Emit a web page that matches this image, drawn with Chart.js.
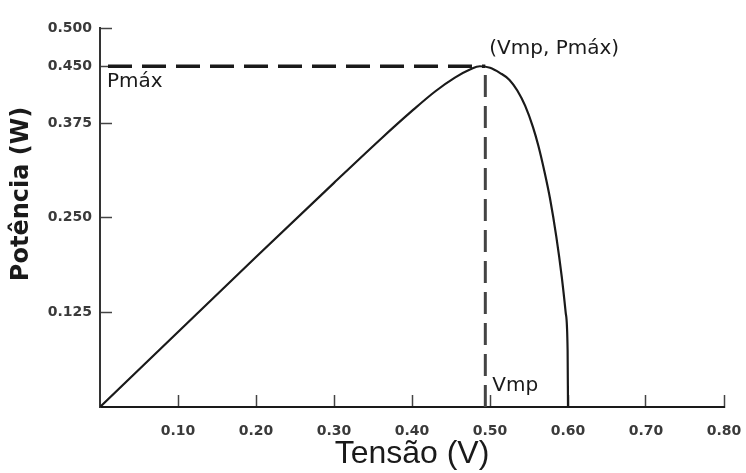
<!DOCTYPE html>
<html>
<head>
<meta charset="utf-8">
<script src="https://cdn.jsdelivr.net/npm/chart.js@4"></script>
<style>
  html, body { margin: 0; padding: 0; background: #fff; }
  #wrap { width: 746px; height: 473px; }
</style>
</head>
<body>
<div id="wrap"><canvas id="pv-chart"></canvas></div>
<script>
// curva P-V da célula
const voltage = [0, 0.10, 0.20, 0.30, 0.36, 0.40, 0.43, 0.455, 0.475, 0.487, 0.50, 0.513, 0.525, 0.535, 0.545, 0.555, 0.562, 0.57, 0.577, 0.585, 0.592, 0.597, 0.5995, 0.60]
const power   = [0, 0.099, 0.198, 0.296, 0.354, 0.391, 0.417, 0.435, 0.446, 0.450, 0.448, 0.441, 0.432, 0.418, 0.398, 0.370, 0.345, 0.310, 0.275, 0.225, 0.172, 0.125, 0.075, 0]

const xTicks = [0.10, 0.20, 0.30, 0.40, 0.50, 0.60, 0.70, 0.80]
const yTicks = [0.125, 0.250, 0.375, 0.450, 0.500]

const vmp = 0.494
const pmax = 0.45

const ink = '#1a1a1a'

const notes = {
  id: 'notes',
  afterDatasetsDraw(chart) {
    const { ctx, scales: { x, y } } = chart
    ctx.save()
    ctx.fillStyle = ink
    ctx.textBaseline = 'middle'
    ctx.font = '20px "DejaVu Sans", sans-serif'
    ctx.fillText('Pmáx', x.getPixelForValue(0) + 7, y.getPixelForValue(pmax) + 16)
    ctx.fillText('(Vmp, Pmáx)', x.getPixelForValue(vmp) + 4, y.getPixelForValue(pmax) - 17)
    ctx.fillText('Vmp', x.getPixelForValue(vmp) + 7, y.getPixelForValue(0) - 21)

    // título do eixo y
    ctx.translate(22, 194)
    ctx.rotate(-Math.PI / 2)
    ctx.textAlign = 'center'
    ctx.font = 'bold 24px "DejaVu Sans", sans-serif'
    ctx.fillText('Potência (W)', 0, 0)
    ctx.restore()
  }
}

const config = {
  type: 'line',
  data: {
    datasets: [
      {
        data: voltage.map((v, i) => ({ x: v, y: power[i] })),
        borderColor: ink,
        borderWidth: 2.2,
        pointRadius: 0,
        cubicInterpolationMode: 'monotone',
        fill: false
      },
      {
        data: [{ x: 0, y: pmax }, { x: vmp, y: pmax }],
        borderColor: ink,
        borderWidth: 3.5,
        borderDash: [24, 10],
        borderDashOffset: -8,
        pointRadius: 0
      },
      {
        data: [{ x: vmp, y: 0 }, { x: vmp, y: pmax }],
        borderColor: '#444',
        borderWidth: 3,
        borderDash: [22, 9],
        pointRadius: 0
      }
    ]
  },
  options: {
    responsive: true,
    maintainAspectRatio: false,
    animation: false,
    layout: { padding: { top: 25, right: 0, left: 0, bottom: 0 } },
    plugins: {
      legend: { display: false },
      tooltip: { enabled: false }
    },
    scales: {
      x: {
        type: 'linear',
        min: 0,
        max: 0.80,
        afterBuildTicks: s => { s.ticks = xTicks.map(v => ({ value: v })) },
        afterFit: s => { s.height = 66; s.paddingRight = 22 },
        border: { color: ink, width: 2 },
        grid: { drawOnChartArea: false, tickLength: -12, color: '#444', tickWidth: 1.5 },
        ticks: {
          padding: 28,
          color: '#3a3a3a',
          font: { family: 'DejaVu Sans', weight: 'bold', size: 14 },
          callback: v => v.toFixed(2)
        },
        title: {
          display: true,
          text: 'Tensão (V)',
          color: ink,
          font: { family: 'Liberation Sans', size: 32 },
          padding: { top: 0, bottom: 0 }
        }
      },
      y: {
        type: 'linear',
        min: 0,
        max: 0.5,
        afterBuildTicks: s => { s.ticks = yTicks.map(v => ({ value: v })) },
        afterFit: s => { s.width = 100 },
        border: { color: '#333', width: 2 },
        grid: { drawOnChartArea: false, tickLength: -12, color: '#444', tickWidth: 1.5 },
        ticks: {
          padding: 20,
          color: '#3a3a3a',
          font: { family: 'DejaVu Sans', weight: 'bold', size: 14 },
          callback: v => v.toFixed(3)
        }
      }
    }
  },
  plugins: [notes]
}

new Chart(document.getElementById('pv-chart').getContext('2d'), config)
</script>
</body>
</html>
